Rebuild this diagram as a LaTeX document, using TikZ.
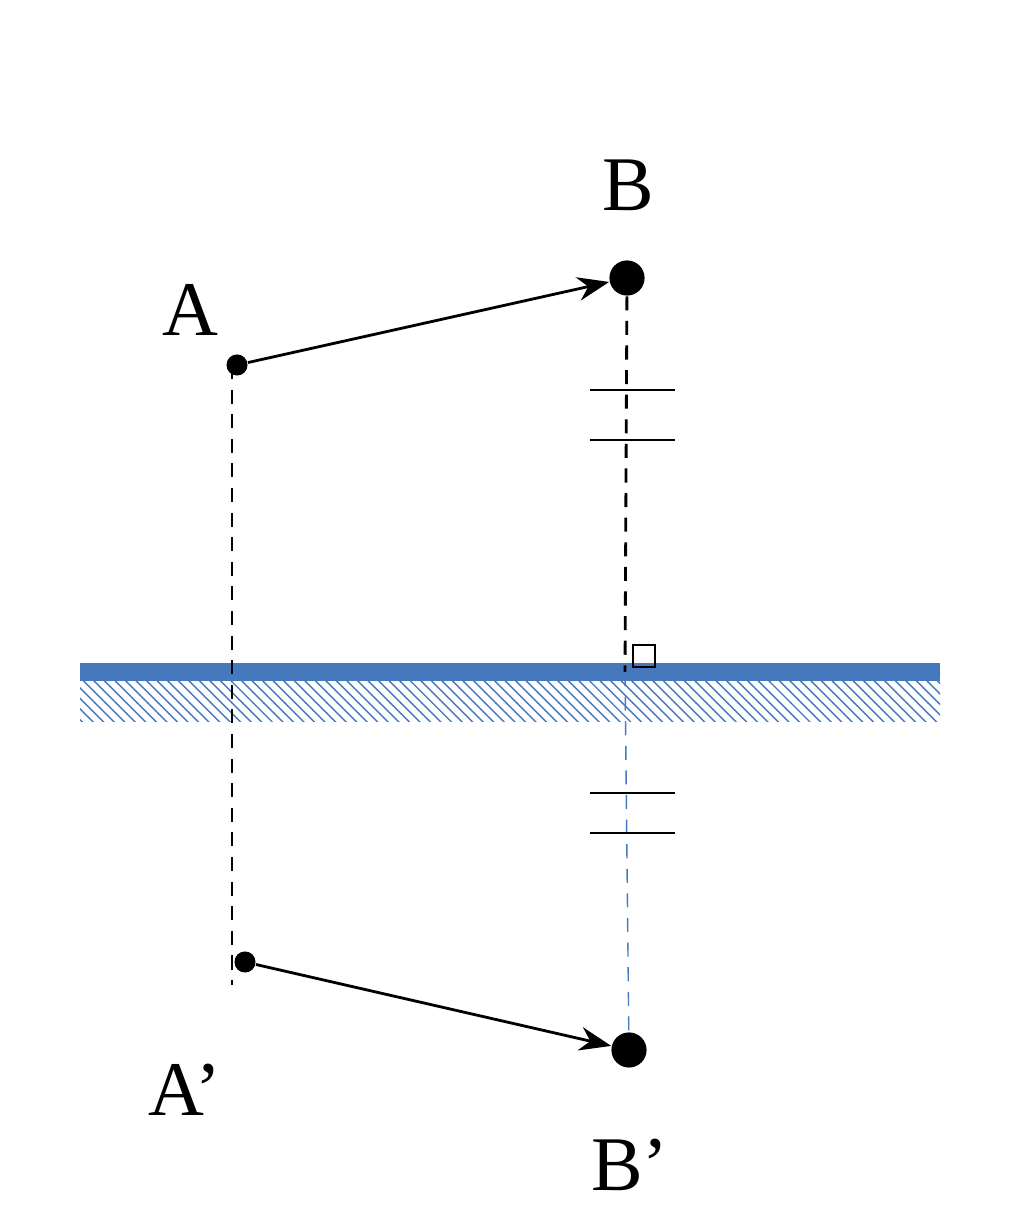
\documentclass[tikz,border=0pt]{standalone}
\usepackage{fontspec}
\setmainfont{Liberation Serif}
\usetikzlibrary{arrows.meta,patterns}
\definecolor{mirror}{RGB}{70,120,190}
\tikzset{
  pt/.style={circle,fill=black,inner sep=0pt,minimum size=7pt},
  lbl/.style={font=\rmfamily\fontsize{22}{26}\selectfont},
  vec/.style={thick,-{Stealth[length=9pt]}},
  proj/.style={thick,dash pattern=on 4pt off 3pt},
  tick/.style={thick}
}
\begin{document}
\begin{tikzpicture}
\useasboundingbox (0,0) rectangle (10.24,12.3);

% mirror
\fill[pattern=north west lines,pattern color=mirror] (0.8,5.08) rectangle (9.4,5.58);
\draw[mirror,line width=5pt] (0.8,5.58) -- (9.4,5.58);

% points
\node[pt,minimum size=6pt] (A) at (2.37,8.65) {};
\node[pt,minimum size=10pt] (B) at (6.27,9.52) {};
\node[pt,minimum size=6pt] (A1) at (2.45,2.68) {};
\node[pt,minimum size=10pt] (B1) at (6.29,1.80) {};
\coordinate (Atop) at (2.32,8.65);
\coordinate (Aend) at (2.32,2.45);
\coordinate (M) at (6.25,5.58);

\node[lbl] at (1.9,9.2) {A};
\node[lbl] at (6.28,10.45) {B};
\node[lbl] at (1.85,1.4) {A’};
\node[lbl] at (6.30,0.65) {B’};

% projections
\draw[proj] (Atop) -- (Aend);
\draw[proj] (B) -- (M);
\draw[proj,mirror,thin] (M) -- (B1);

% right angle
\draw[thin] (6.33,5.63) rectangle ++(0.22,0.22);

% equal marks
\foreach \y in {8.40,7.90,4.37,3.97}
  \draw[tick] (5.9,\y) -- (6.75,\y);

% vectors
\draw[vec] (A) -- (B);
\draw[vec] (A1) -- (B1);
\end{tikzpicture}
\end{document}
